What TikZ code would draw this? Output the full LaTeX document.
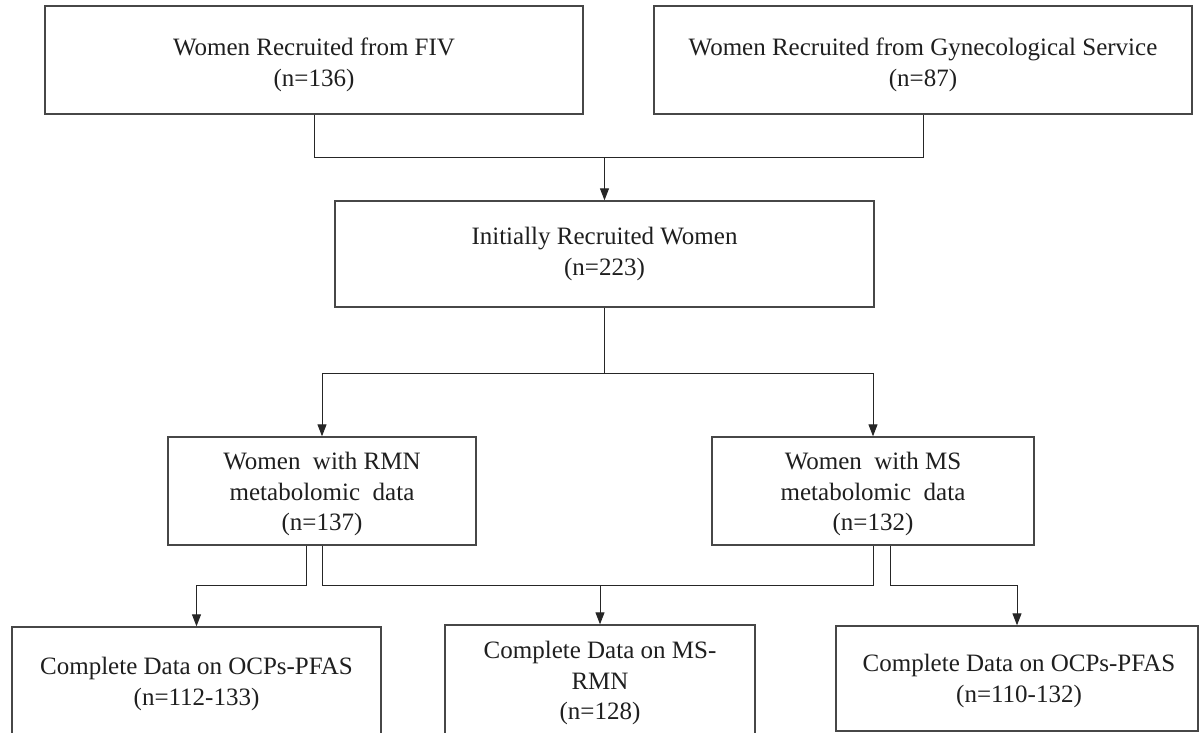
\documentclass[tikz,border=0pt]{standalone}
\usepackage{fontspec}
\setmainfont{Liberation Serif}
\usetikzlibrary{arrows.meta}
\begin{document}
\begin{tikzpicture}[x=1pt,y=-1pt,
  box/.style={draw=black!72, line width=1.4pt, inner sep=0pt},
  lbl/.style={align=center, font=\fontsize{25}{30.5}\selectfont, text=black!88, inner sep=0pt},
  link/.style={draw=black!85, line width=1pt},
  arr/.style={link, -{Triangle[length=12pt,width=9pt]}}]
\useasboundingbox (0,0) rectangle (1199,732);
\fill[white] (0,0) rectangle (1199,732);

% boxes
\node[box, minimum width=538pt, minimum height=108pt] (A) at (314,60) {};
\node[box, minimum width=538pt, minimum height=108pt] (B) at (923,60) {};
\node[box, minimum width=539pt, minimum height=106pt] (C) at (604.5,254) {};
\node[box, minimum width=308pt, minimum height=108pt] (D) at (322,491) {};
\node[box, minimum width=322pt, minimum height=108pt] (E) at (873,491) {};
\node[box, minimum width=369pt, minimum height=118pt] (F) at (196.5,686) {};
\node[box, minimum width=310pt, minimum height=120pt] (G) at (600,685) {};
\node[box, minimum width=362pt, minimum height=105pt] (H) at (1017,678.5) {};

% texts
\node[lbl] (tA) at ([yshift=-5pt]A.center) {Women Recruited from FIV\\(n=136)};
\node[lbl] (tB) at ([yshift=-5pt]B.center) {Women Recruited from Gynecological Service\\(n=87)};
\node[lbl] (tC) at (C.center) {Initially Recruited Women\\(n=223)};
\node[lbl] (tD) at ([yshift=-3pt]D.center) {Women\ \ with RMN\\metabolomic\ \ data\\(n=137)};
\node[lbl] (tE) at ([yshift=-3pt]E.center) {Women\ \ with MS\\metabolomic\ \ data\\(n=132)};
\node[lbl] (tF) at (196.5,684) {Complete Data on OCPs-PFAS\\(n=112-133)};
\node[lbl] (tG) at (600,683) {Complete Data on MS-\\RMN\\(n=128)};
\node[lbl] (tH) at (1019,681) {Complete Data on OCPs-PFAS\\(n=110-132)};

% connectors
\draw[link] (A.south) -- ++(0,43) -| (B.south);
\coordinate (jt) at (604.5,157);
\draw[arr] (jt) -- (C.north);
\draw[link] (C.south) -- ++(0,66) coordinate (jm);
\draw[arr] (jm) -| (D.north);
\draw[arr] (jm) -| (E.north);
\draw[arr] ([xshift=-16pt]D.south) -- ++(0,40) -| (F.north);
\draw[link] (D.south) -- ++(0,40) -| (E.south);
\coordinate (jb) at (600,585);
\draw[arr] (jb) -- (G.north);
\draw[arr] ([xshift=17pt]E.south) -- ++(0,40) -| (H.north);
\end{tikzpicture}
\end{document}
